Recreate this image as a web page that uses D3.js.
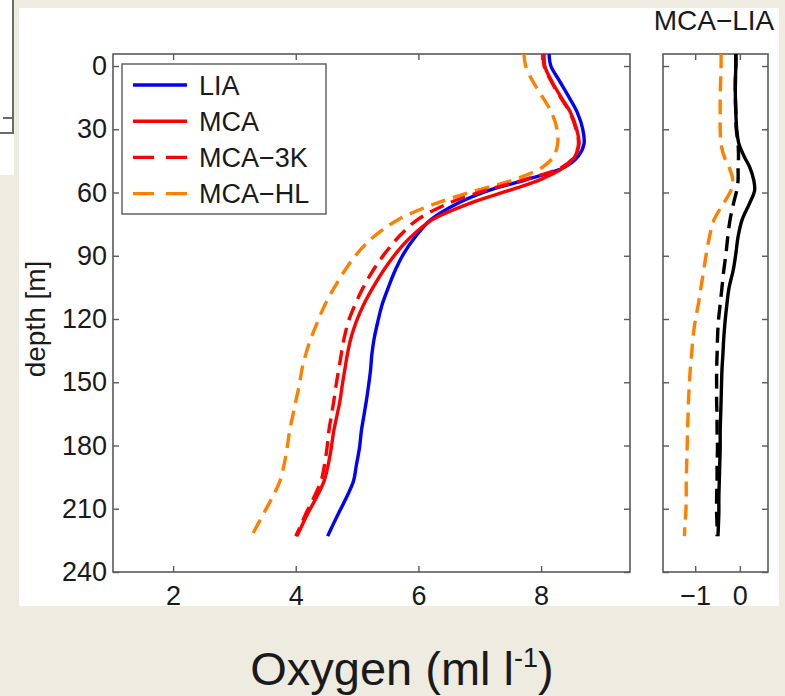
<!DOCTYPE html>
<html>
<head>
<meta charset="utf-8">
<script src="https://cdn.jsdelivr.net/npm/d3@7/dist/d3.min.js"></script>
<style>
  html, body { margin: 0; padding: 0; background: #eeebe1; }
  svg { display: block; }
  text { font-family: "Liberation Sans", Arial, Helvetica, sans-serif; fill: #1a1a1a; }
</style>
</head>
<body>
<svg id="chart" width="785" height="696"></svg>
<script>
// Depth levels (m) shared by every profile
const depths = [-6, 0, 7, 15, 22, 30, 37, 43, 48, 54, 59, 65, 73, 81, 89, 97, 105, 113,
                121, 129, 137, 144, 151, 159, 166, 173, 181, 189, 197, 205, 212, 218, 223];

// Oxygen profiles (ml/l)
const lia   = [8.13, 8.16, 8.30, 8.46, 8.59, 8.68, 8.70, 8.60, 8.38, 7.75, 7.15, 6.65, 6.20, 5.95, 5.76, 5.62, 5.51, 5.41,
               5.34, 5.28, 5.24, 5.22, 5.19, 5.15, 5.11, 5.07, 5.04, 4.99, 4.94, 4.82, 4.70, 4.60, 4.52];
const mca   = [8.05, 8.06, 8.17, 8.33, 8.48, 8.58, 8.62, 8.55, 8.38, 7.98, 7.48, 6.85, 6.22, 5.88, 5.63, 5.43, 5.26, 5.11,
               4.99, 4.90, 4.84, 4.80, 4.76, 4.72, 4.67, 4.62, 4.58, 4.53, 4.46, 4.33, 4.20, 4.10, 4.02];
const mca3k = [8.04, 8.05, 8.16, 8.32, 8.47, 8.57, 8.61, 8.54, 8.34, 7.72, 7.10, 6.50, 5.98, 5.68, 5.45, 5.26, 5.10, 4.97,
               4.86, 4.79, 4.74, 4.70, 4.66, 4.62, 4.58, 4.54, 4.51, 4.47, 4.41, 4.29, 4.17, 4.08, 4.00];
const mcahl = [7.72, 7.75, 7.86, 8.03, 8.17, 8.26, 8.27, 8.20, 8.02, 7.55, 6.95, 6.30, 5.66, 5.27, 5.00, 4.80, 4.63, 4.48,
               4.36, 4.25, 4.16, 4.10, 4.06, 4.00, 3.95, 3.90, 3.86, 3.81, 3.74, 3.61, 3.48, 3.37, 3.28];

// Differences from LIA (ml/l)
const dMca   = [-0.09, -0.09, -0.10, -0.10, -0.09, -0.07, -0.02, 0.10, 0.22, 0.31, 0.33, 0.22, 0.05, -0.04, -0.09, -0.15, -0.24, -0.29,
                -0.33, -0.36, -0.38, -0.40, -0.41, -0.42, -0.43, -0.44, -0.44, -0.45, -0.46, -0.47, -0.47, -0.48, -0.49];
const dMca3k = [-0.09, -0.09, -0.10, -0.10, -0.09, -0.08, -0.04, -0.03, -0.04, -0.04, -0.07, -0.14, -0.22, -0.27, -0.31, -0.36, -0.40, -0.44,
                -0.48, -0.50, -0.51, -0.52, -0.52, -0.52, -0.51, -0.51, -0.50, -0.51, -0.51, -0.52, -0.52, -0.51, -0.51];
const dMcahl = [-0.42, -0.42, -0.43, -0.44, -0.44, -0.44, -0.42, -0.35, -0.24, -0.16, -0.20, -0.36, -0.58, -0.68, -0.75, -0.81, -0.87, -0.93,
                -1.00, -1.05, -1.08, -1.11, -1.13, -1.15, -1.16, -1.17, -1.18, -1.19, -1.20, -1.20, -1.21, -1.23, -1.24];

// Axis ticks
const depthTicks = [0, 30, 60, 90, 120, 150, 180, 210, 240];
const oxyTicks = [2, 4, 6, 8];
const diffTicks = [-1, 0];

const legendNames = ["LIA", "MCA", "MCA\u22123K", "MCA\u2212HL"];

const svg = d3.select("#chart");
const FRAME = "#5a5a5a";

// Page backdrop: white sheet plus the edge of a neighbouring panel
svg.append("rect").attr("x", 0).attr("y", 0).attr("width", 14).attr("height", 175).attr("fill", "#ffffff");
svg.append("path").attr("d", "M13,0V133H0M3,118H13").attr("fill", "none").attr("stroke", "#6a6a6a").attr("stroke-width", 2);
svg.append("rect").attr("x", 19).attr("y", 8).attr("width", 760).attr("height", 598).attr("fill", "#ffffff");

// Panel geometry
const plotTop = 54, plotBottom = 572;
const leftPanel = { x0: 113, x1: 630 };
const rightPanel = { x0: 663, x1: 768 };

const y = d3.scaleLinear().domain([-5.7, 240]).range([plotTop, plotBottom]);
const xL = d3.scaleLinear().domain([1.02, 9.45]).range([leftPanel.x0, leftPanel.x1]);
const xR = d3.scaleLinear().domain([-1.72, 0.63]).range([rightPanel.x0, rightPanel.x1]);

const fontTick = 27;

function panelFrame(x0, x1) {
  svg.append("rect").attr("x", x0).attr("y", plotTop).attr("width", x1 - x0).attr("height", plotBottom - plotTop)
    .attr("fill", "#ffffff").attr("stroke", FRAME).attr("stroke-width", 1.6);
}

function styleAxis(g) {
  g.select(".domain").remove();
  g.selectAll(".tick line").attr("stroke", FRAME).attr("stroke-width", 1.4);
  g.selectAll(".tick text").attr("font-size", fontTick).attr("fill", "#1a1a1a")
    .attr("font-family", "'Liberation Sans', Arial, Helvetica, sans-serif");
}

function drawAxes(x, x0, x1, xTicks, showDepthLabels) {
  // left ticks (labels only on the main panel)
  const ga = svg.append("g").attr("transform", `translate(${x0},0)`)
    .call(d3.axisLeft(y).tickValues(depthTicks).tickSizeInner(-6).tickSizeOuter(0).tickPadding(6)
      .tickFormat(showDepthLabels ? d3.format("d") : () => ""));
  styleAxis(ga);
  // right ticks
  const gb = svg.append("g").attr("transform", `translate(${x1},0)`)
    .call(d3.axisRight(y).tickValues(depthTicks).tickSizeInner(-6).tickSizeOuter(0).tickFormat(() => ""));
  styleAxis(gb);
  // bottom ticks with labels
  const gc = svg.append("g").attr("transform", `translate(0,${plotBottom})`)
    .call(d3.axisBottom(x).tickValues(xTicks).tickSizeInner(-6).tickSizeOuter(0).tickPadding(14)
      .tickFormat(d => d < 0 ? "\u2212" + Math.abs(d) : String(d)));
  styleAxis(gc);
  // top ticks
  const gd = svg.append("g").attr("transform", `translate(0,${plotTop})`)
    .call(d3.axisTop(x).tickValues(xTicks).tickSizeInner(-6).tickSizeOuter(0).tickFormat(() => ""));
  styleAxis(gd);
}

function drawProfile(x, values, color, dashed, clipId) {
  const line = d3.line()
    .x((d, i) => x(values[i]))
    .y(d => y(d))
    .curve(d3.curveCatmullRom.alpha(0.5));
  svg.append("path")
    .datum(depths)
    .attr("d", line)
    .attr("fill", "none")
    .attr("stroke", color)
    .attr("stroke-width", 3.4)
    .attr("stroke-linejoin", "round")
    .attr("stroke-dasharray", dashed ? "15,8" : null)
    .attr("clip-path", `url(#${clipId})`);
}

// Clip regions for each panel
const defs = svg.append("defs");
defs.append("clipPath").attr("id", "clipL").append("rect")
  .attr("x", leftPanel.x0).attr("y", plotTop).attr("width", leftPanel.x1 - leftPanel.x0).attr("height", plotBottom - plotTop);
defs.append("clipPath").attr("id", "clipR").append("rect")
  .attr("x", rightPanel.x0).attr("y", plotTop).attr("width", rightPanel.x1 - rightPanel.x0).attr("height", plotBottom - plotTop);

// ----- Main panel: oxygen profiles -----
panelFrame(leftPanel.x0, leftPanel.x1);
const series = [
  { v: lia,   color: "#0000ff", dashed: false },
  { v: mca,   color: "#ff0000", dashed: false },
  { v: mca3k, color: "#ff0000", dashed: true },
  { v: mcahl, color: "#ff8000", dashed: true }
];
// draw back-to-front so LIA stays beneath MCA as in the legend order
[series[0], series[3], series[2], series[1]].forEach(s => drawProfile(xL, s.v, s.color, s.dashed, "clipL"));
drawAxes(xL, leftPanel.x0, leftPanel.x1, oxyTicks, true);

// Legend
const lg = svg.append("g");
lg.append("rect").attr("x", 122).attr("y", 64).attr("width", 204).attr("height", 150)
  .attr("fill", "#ffffff").attr("stroke", FRAME).attr("stroke-width", 1.4);
series.forEach((s, i) => {
  const cy = 85 + i * 36.2;
  lg.append("line").attr("x1", 133).attr("x2", 187).attr("y1", cy).attr("y2", cy)
    .attr("stroke", s.color).attr("stroke-width", 3.4)
    .attr("stroke-dasharray", s.dashed ? "21,12" : null);
  lg.append("text").attr("x", 199).attr("y", cy).attr("dy", "0.36em")
    .attr("font-size", 27).text(legendNames[i]);
});

// Y axis title
svg.append("text")
  .attr("transform", `translate(45,${(y(0) + y(240)) / 2}) rotate(-90)`)
  .attr("text-anchor", "middle").attr("font-size", 28).text("depth [m]");

// ----- Side panel: differences from LIA -----
panelFrame(rightPanel.x0, rightPanel.x1);
drawProfile(xR, dMcahl, "#ff8000", true, "clipR");
drawProfile(xR, dMca3k, "#000000", true, "clipR");
drawProfile(xR, dMca, "#000000", false, "clipR");
drawAxes(xR, rightPanel.x0, rightPanel.x1, diffTicks, false);

svg.append("text").attr("x", 714).attr("y", 30).attr("text-anchor", "middle")
  .attr("font-size", 28).text("MCA\u2212LIA");

// Common x-axis caption
const cap = svg.append("text").attr("x", 402).attr("y", 685).attr("text-anchor", "middle")
  .attr("font-size", 47);
cap.append("tspan").text("Oxygen (ml l");
cap.append("tspan").attr("font-size", 27).attr("dy", -18).text("-1");
cap.append("tspan").attr("dy", 18).text(")");
</script>
</body>
</html>
